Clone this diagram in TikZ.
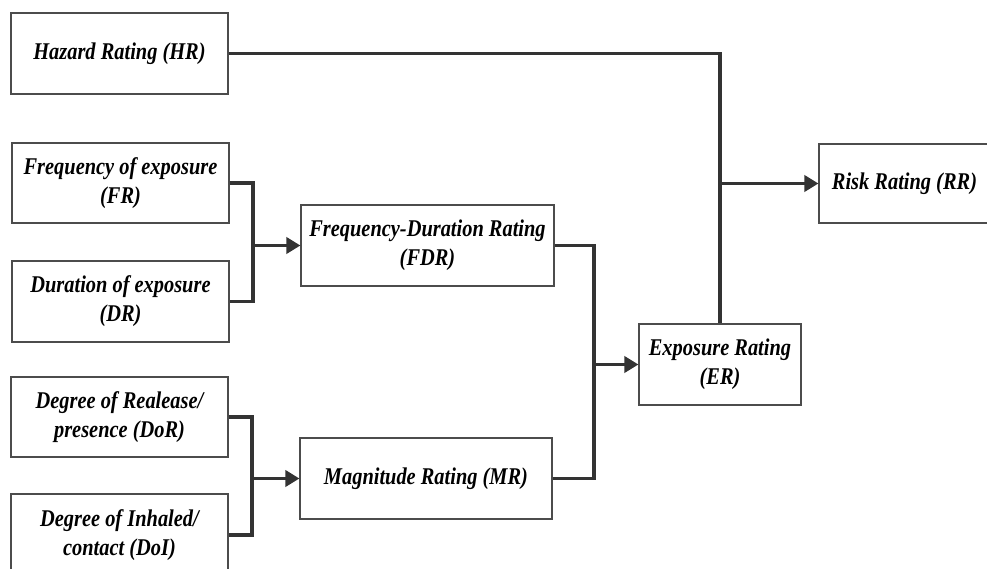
\documentclass[tikz,border=0pt]{standalone}
\usepackage{fontspec}
\setmainfont{Liberation Serif}[FakeStretch=0.85]
\usetikzlibrary{arrows.meta}

\begin{document}
\begin{tikzpicture}[x=1pt, y=-1pt,
    box/.style={draw=black!70, line width=1.1pt, fill=white, inner sep=0pt, align=center,
        font=\fontsize{24}{29}\selectfont\bfseries\itshape},
    link/.style={draw=black!80, line width=3.7pt},
    arr/.style={link, -{Triangle[length=14pt, width=16pt]}}]
    \useasboundingbox (0,0) rectangle (987,569);
    \clip (0,0) rectangle (987,569);
    % input ratings
    \node [box, minimum width=217pt, minimum height=81pt] (hr) at (119.5,53.5) {Hazard Rating (HR)};
    \node [box, minimum width=217pt, minimum height=80pt] (fr) at (120.5,183) {Frequency of exposure\\(FR)};
    \node [box, minimum width=217pt, minimum height=81pt] (dr) at (120.5,301.5) {Duration of exposure\\(DR)};
    \node [box, minimum width=217pt, minimum height=80pt] (dor) at (119.5,417) {Degree of Realease/\\presence (DoR)};
    \node [box, minimum width=217pt, minimum height=82pt] (doi) at (119.5,535) {Degree of Inhaled/\\contact (DoI)};
    % intermediate ratings
    \node [box, minimum width=253pt, minimum height=81pt] (fdr) at (427.5,245.5) {Frequency-Duration Rating\\(FDR)};
    \node [box, minimum width=252pt, minimum height=81pt] (mr) at (426,478.5) {Magnitude Rating (MR)};
    \node [box, minimum width=162pt, minimum height=81pt] (er) at (720,364.5) {Exposure Rating\\(ER)};
    % final rating
    \node [box, minimum width=171pt, minimum height=79pt] (rr) at (904.5,183.5) {Risk Rating (RR)};
    % joints
    \coordinate (j1) at (253,245.5);
    \coordinate (j2) at (252,478.5);
    \coordinate (j3) at (594,364.5);
    % frequency + duration
    \draw [link] (fr.east) -| (j1) |- (dr.east);
    \draw [arr] (j1) -- (fdr.west);
    % release + inhaled
    \draw [link] (dor.east) -| (j2) |- (doi.east);
    \draw [arr] (j2) -- (mr.west);
    % exposure
    \draw [link] (fdr.east) -| (j3) |- (mr.east);
    \draw [arr] (j3) -- (er.west);
    % risk
    \draw [link] (hr.east) -| (er.north);
    \draw [arr] (er.north |- rr.west) -- (rr.west);
\end{tikzpicture}
\end{document}
